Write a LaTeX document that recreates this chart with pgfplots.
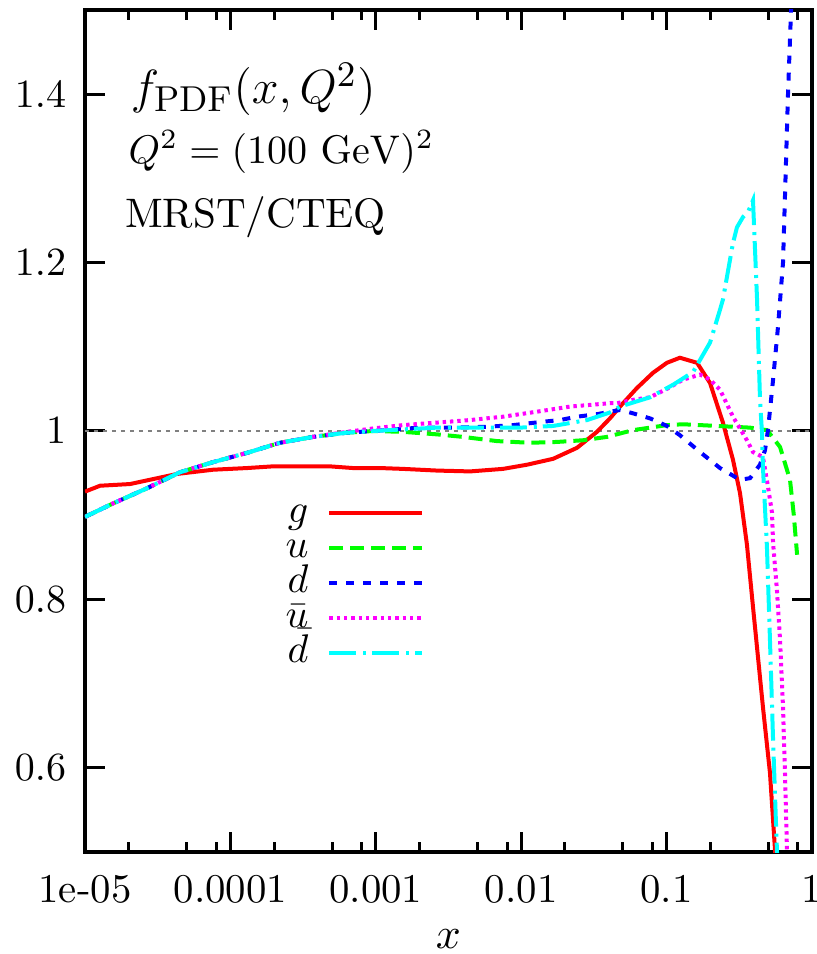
\documentclass[border=0pt]{standalone}
\usepackage{amsmath}
\usepackage{pgfplots}
\pgfplotsset{compat=1.18}

\definecolor{cg}{RGB}{255,0,0}
\definecolor{cu}{RGB}{0,255,0}
\definecolor{cd}{RGB}{0,0,255}
\definecolor{cub}{RGB}{255,0,255}
\definecolor{cdb}{RGB}{0,255,255}

\begin{document}
\begin{tikzpicture}
\begin{axis}[
    xmode=log,
    width=181.75pt, height=210.5pt,
    scale only axis,
    xmin=1e-5, xmax=1,
    ymin=0.5, ymax=1.5,
    xtick={1e-5,1e-4,1e-3,1e-2,1e-1,1},
    xticklabels={1e-05,0.0001,0.001,0.01,0.1,1},
    minor xtick={2e-5,5e-5,8e-5,2e-4,5e-4,8e-4,2e-3,5e-3,8e-3,2e-2,5e-2,8e-2,0.2,0.5,0.8},
    ytick={0.6,0.8,1,1.2,1.4},
    minor y tick num=0,
    major tick length=5pt,
    minor tick length=2.5pt,
    every tick/.style={black, line width=0.75pt},
    axis line style={line width=1pt},
    tick label style={font=\fontsize{10.2}{12}\selectfont},
    xticklabel style={yshift=-2.2pt},
    yticklabel style={xshift=-1.2pt},
    label style={font=\fontsize{10.5}{12}\selectfont},
    xlabel={$x$},
    xlabel style={yshift=0.2pt},
    legend style={draw=none, fill=none, at={(0.468,0.421)}, anchor=north east,
        inner sep=0pt, row sep=1.25pt, column sep=4.75pt,
        font=\normalsize,
        nodes={inner sep=0pt, text height=6pt, text depth=1.5pt}},
    legend cell align=right,
    legend plot pos=right,
    legend image code/.code={\draw[#1] (0pt,0pt) -- (23.25pt,0pt);},
    every axis plot/.append style={line width=1pt},
]
\addplot[gray, line width=0.3pt, dash pattern=on 1pt off 1.25pt, forget plot] coordinates {(1e-5,1) (1,1)};

% g
\addplot[cg] coordinates {
(1e-5,0.928) (1.27e-5,0.935) (2.04e-5,0.937) (4.3e-5,0.949) (7.59e-5,0.954)
(1.3e-4,0.956) (1.96e-4,0.958) (4.84e-4,0.958) (6.97e-4,0.956) (1.07e-3,0.956)
(1.54e-3,0.955) (2.64e-3,0.953) (4.45e-3,0.952) (7.5e-3,0.955) (1.1e-2,0.960)
(1.66e-2,0.967) (2.42e-2,0.980) (3.32e-2,0.999) (4.08e-2,1.015) (4.78e-2,1.029)
(6.25e-2,1.051) (8.05e-2,1.069) (0.1005,1.081) (0.1235,1.087) (0.162,1.081)
(0.199,1.057) (0.244,1.010) (0.286,0.966) (0.320,0.926) (0.357,0.865)
(0.393,0.791) (0.460,0.672) (0.514,0.594) (0.557,0.502) (0.57,0.48)
};
\addlegendentry{$g$}

% u
\addplot[cu, dash pattern=on 3.5pt off 1.75pt] coordinates {
(1e-5,0.898) (1.56e-5,0.914) (2.67e-5,0.932) (4.5e-5,0.951) (7.59e-5,0.963)
(1.3e-4,0.974) (2.19e-4,0.986) (3.7e-4,0.993) (6.33e-4,0.998) (9.57e-4,1.0)
(1.54e-3,0.999) (2.64e-3,0.996) (3.98e-3,0.993) (6.82e-3,0.988) (1.15e-2,0.986)
(1.76e-2,0.987) (2.66e-2,0.989) (3.89e-2,0.993) (5.87e-2,1.001) (0.1005,1.007)
(0.13,1.008) (0.222,1.006) (0.375,1.004) (0.491,1.001) (0.603,0.981)
(0.706,0.942) (0.75,0.90) (0.79,0.853)
};
\addlegendentry{$u$}

% d
\addplot[cd, dash pattern=on 2pt off 2.25pt] coordinates {
(1e-5,0.898) (1.56e-5,0.914) (2.67e-5,0.932) (4.5e-5,0.951) (7.59e-5,0.963)
(1.3e-4,0.974) (2.19e-4,0.986) (3.7e-4,0.993) (6.33e-4,0.998) (9.57e-4,1.0)
(2.01e-3,1.004) (3.4e-3,1.004) (5.82e-3,1.005) (8.79e-3,1.007) (1.41e-2,1.011)
(1.85e-2,1.013) (2.42e-2,1.017) (3.32e-2,1.020) (4.78e-2,1.025) (5.87e-2,1.021)
(7.69e-2,1.015) (0.1005,1.006) (0.1235,0.995) (0.170,0.975) (0.233,0.956)
(0.320,0.942) (0.375,0.944) (0.439,0.960) (0.475,0.977) (0.498,1.001)
(0.540,1.061) (0.584,1.124) (0.632,1.2) (0.684,1.4) (0.718,1.5) (0.73,1.53)
};
\addlegendentry{$d$}

% ubar
\addplot[cub, dash pattern=on 0.85pt off 0.98pt] coordinates {
(1e-5,0.898) (1.56e-5,0.914) (2.67e-5,0.932) (4.5e-5,0.951) (7.59e-5,0.963)
(1.3e-4,0.974) (2.19e-4,0.986) (3.7e-4,0.993) (6.33e-4,0.999) (9.57e-4,1.003)
(1.54e-3,1.007) (2.64e-3,1.010) (4.45e-3,1.013) (7.5e-3,1.017) (1.29e-2,1.023)
(2.17e-2,1.029) (4.08e-2,1.033) (4.56e-2,1.033) (5.87e-2,1.037) (7.69e-2,1.040)
(0.1005,1.050) (0.13,1.061) (0.17,1.067) (0.199,1.061) (0.233,1.049)
(0.286,1.017) (0.357,0.989) (0.393,0.975) (0.460,0.969) (0.498,0.934)
(0.531,0.903) (0.540,0.867) (0.574,0.811) (0.603,0.752) (0.632,0.672)
(0.652,0.594) (0.673,0.502) (0.68,0.48)
};
\addlegendentry{$\bar{u}$}

% dbar
\addplot[cdb, dash pattern=on 6.75pt off 1.75pt on 0.75pt off 1.5pt] coordinates {
(1e-5,0.898) (1.56e-5,0.914) (2.67e-5,0.932) (4.5e-5,0.951) (7.59e-5,0.963)
(1.3e-4,0.974) (2.19e-4,0.986) (3.7e-4,0.993) (6.33e-4,0.998) (9.57e-4,1.0)
(2.64e-3,1.004) (5.21e-3,1.004) (9.82e-3,1.004) (1.66e-2,1.006) (2.84e-2,1.013)
(4.08e-2,1.022) (4.78e-2,1.029) (7.69e-2,1.040) (0.111,1.055) (0.152,1.070)
(0.199,1.105) (0.233,1.144) (0.244,1.156) (0.286,1.223) (0.305,1.242)
(0.335,1.254) (0.363,1.260) (0.393,1.274) (0.419,1.156) (0.439,1.037)
(0.453,0.998) (0.460,0.957) (0.490,0.862) (0.514,0.752) (0.540,0.633)
(0.574,0.502) (0.58,0.48)
};
\addlegendentry{$\bar{d}$}

\node[anchor=base west, inner sep=0pt, font=\fontsize{12.4}{15}\selectfont]
    at (rel axis cs:0.062,0.889) {$f_{\mathrm{PDF}}(x,Q^2)$};
\node[anchor=base west, inner sep=0pt, font=\fontsize{10.2}{12}\selectfont]
    at (rel axis cs:0.059,0.818) {$Q^2=(100\ \mathrm{GeV})^2$};
\node[anchor=base west, inner sep=0pt, font=\fontsize{10.3}{12}\selectfont]
    at (rel axis cs:0.054,0.742) {MRST/CTEQ};
\end{axis}
\pgfresetboundingbox
\useasboundingbox (-21.25pt,-25.5pt) rectangle (182.75pt,213pt);
\end{tikzpicture}
\end{document}
